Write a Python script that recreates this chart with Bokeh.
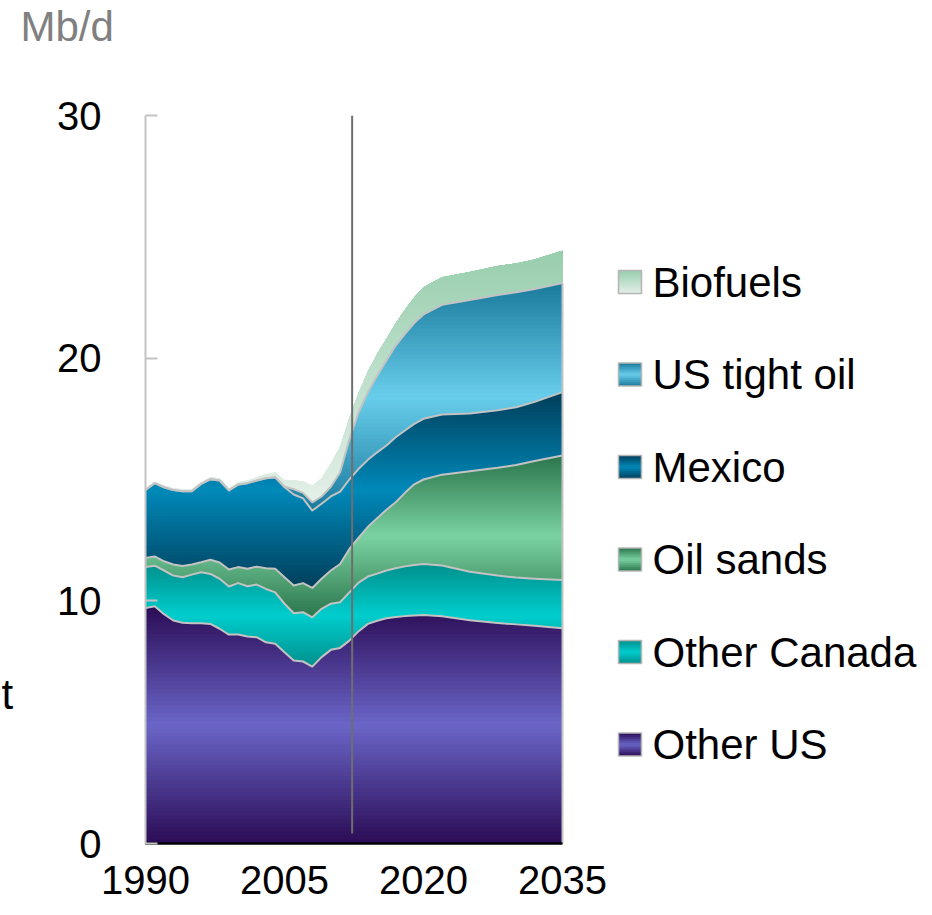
import numpy as np
from bokeh.plotting import figure
from bokeh.models import Range1d, Label, FixedTicker
from bokeh.core.properties import value
from bokeh.embed import file_html
from bokeh.resources import INLINE

# ---------------- data (Mb/d) ----------------
years = [1990, 1991, 1992, 1993, 1994, 1995, 1996, 1997, 1998, 1999, 2000, 2001,
         2002, 2003, 2004, 2005, 2006, 2007, 2008, 2009, 2010, 2011, 2012,
         2013, 2014, 2015, 2016, 2017, 2018, 2019, 2020, 2022, 2025, 2028, 2030, 2032, 2035]

other_us = [9.70, 9.78, 9.45, 9.19, 9.10, 9.08, 9.08, 9.05, 8.85, 8.61, 8.61, 8.53,
            8.50, 8.29, 8.23, 7.88, 7.54, 7.50, 7.29, 7.68, 7.98, 8.06, 8.36,
            8.75, 9.05, 9.18, 9.28, 9.33, 9.37, 9.40, 9.42, 9.36, 9.20, 9.09, 9.03, 8.97, 8.87]
other_canada = [1.69, 1.67, 1.80, 1.85, 1.87, 2.00, 2.10, 2.06, 2.06, 1.98, 2.12, 2.07,
                2.17, 2.20, 2.12, 2.00, 1.95, 2.03, 2.03, 1.99, 1.90, 1.88, 1.99,
                2.00, 1.95, 1.94, 1.97, 2.01, 2.05, 2.08, 2.10, 2.10, 2.00, 1.95, 1.93, 1.94, 1.99]
oil_sands = [0.38, 0.38, 0.38, 0.46, 0.47, 0.42, 0.41, 0.58, 0.67, 0.70, 0.66, 0.72,
             0.74, 0.85, 0.97, 1.09, 1.14, 1.20, 1.21, 1.24, 1.37, 1.58, 1.79,
             1.85, 2.05, 2.28, 2.50, 2.72, 3.03, 3.32, 3.48, 3.74, 4.14, 4.44, 4.64, 4.85, 5.13]
mexico = [2.80, 3.02, 3.05, 3.07, 3.08, 3.02, 3.23, 3.32, 3.38, 3.26, 3.40, 3.53,
          3.55, 3.71, 3.77, 3.71, 3.75, 3.49, 3.19, 3.09, 3.05, 2.98, 2.86,
          2.84, 2.76, 2.72, 2.65, 2.68, 2.57, 2.49, 2.50, 2.48, 2.38, 2.37, 2.38, 2.44, 2.61]
us_tight_oil = [0.0, 0.0, 0.0, 0.0, 0.0, 0.0, 0.0, 0.0, 0.0, 0.0, 0.0, 0.0,
                0.0, 0.0, 0.0, 0.03, 0.22, 0.23, 0.34, 0.30, 0.40, 0.80, 1.65,
                2.33, 2.79, 3.16, 3.50, 3.78, 3.98, 4.16, 4.30, 4.52, 4.68, 4.75, 4.74, 4.65, 4.50]
biofuels = [0.06, 0.06, 0.07, 0.07, 0.08, 0.08, 0.07, 0.08, 0.09, 0.09, 0.10, 0.11,
            0.13, 0.17, 0.20, 0.26, 0.36, 0.48, 0.68, 0.75, 0.95, 1.05, 0.88,
            0.80, 0.85, 0.90, 0.90, 0.92, 1.00, 1.05, 1.12, 1.13, 1.15, 1.20, 1.18, 1.22, 1.33]

series_names = ["Other US", "Other Canada", "Oil sands", "Mexico", "US tight oil", "Biofuels"]
series_values = [other_us, other_canada, oil_sands, mexico, us_tight_oil, biofuels]
legend_order = ["Biofuels", "US tight oil", "Mexico", "Oil sands", "Other Canada", "Other US"]

x_ticks = [1990, 2005, 2020, 2035]
y_ticks = [0, 10, 20, 30]
outlook_start = 2012.3
unit_label = "Mb/d"

# ---------------- styles ----------------
grad = {
    "Other US": ("tube", "#2b0b55", "#6a66c8"),
    "Other Canada": ("tube", "#00908c", "#00cdcd"),
    "Oil sands": ("tube", "#2b754c", "#7ad2a2"),
    "Mexico": ("tube", "#003e5a", "#0089b9"),
    "US tight oil": ("tube", "#1a7a9c", "#68cdeb"),
    "Biofuels": ("linear", "#98ceae", "#e4f0e8"),
}
FONT = "Liberation Sans"

W, H = 924, 907
ML, MR, MT, MB = 145, 4, 115, 64
FW, FH = W - ML - MR, H - MT - MB
YPX = 417.0 / 45.0          # px per year
X0 = 1990
X1 = X0 + FW / YPX
Y0, Y1 = 0, 30
UPX = (Y1 - Y0) / FH        # data units per px


def px_x(page_x):
    return X0 + (page_x - ML) / YPX


def px_y(page_y):
    return Y0 + (H - MB - page_y) * UPX


def h2r(h):
    return np.array([int(h[i:i + 2], 16) for i in (1, 3, 5)], dtype=float)


def mix(c1, c2, t):
    c = h2r(c1) * (1 - t) + h2r(c2) * t
    return "#%02x%02x%02x" % tuple(int(round(v)) for v in c)


def grad_color(name, t):
    kind, a, b = grad[name]
    if kind == "tube":
        return mix(a, b, 1 - abs(2 * t - 1))
    return mix(b, a, t)


def clip_max(xa, ya, a):
    """max(y, a) along a polyline, with crossing points inserted."""
    xs, ys = [xa[0]], [max(ya[0], a)]
    for j in range(1, len(xa)):
        y0, y1 = ya[j - 1], ya[j]
        if (y0 - a) * (y1 - a) < 0:
            t = (a - y0) / (y1 - y0)
            xs.append(xa[j - 1] + t * (xa[j] - xa[j - 1]))
            ys.append(a)
        xs.append(xa[j])
        ys.append(max(y1, a))
    return xs, ys


p = figure(width=W, height=H, output_backend="svg", toolbar_location=None,
           x_range=Range1d(X0, X1), y_range=Range1d(Y0, Y1),
           min_border_left=ML, min_border_right=MR, min_border_top=MT, min_border_bottom=MB)
p.outline_line_color = None
p.xgrid.visible = False
p.ygrid.visible = False
p.background_fill_color = "white"

x = [float(v) for v in years]
vals = np.array(series_values, dtype=float)
cums = np.cumsum(vals, axis=0)
N = 60
for k, name in enumerate(series_names):
    lo_arr = list(cums[k - 1]) if k > 0 else [0.0] * len(x)
    up_arr = list(cums[k])
    lo, hi = min(lo_arr), max(up_arr)
    xs, ys, cs = [], [], []
    for i in range(N):
        a = lo + (hi - lo) * i / N
        tx, ty = clip_max(x, up_arr, a)
        bx, by = clip_max(x, lo_arr, a)
        xs.append(tx + bx[::-1])
        ys.append(ty + by[::-1])
        cs.append(grad_color(name, (i + 0.5) / N))
    p.patches(xs, ys, fill_color=cs, line_color=None)

# boundary lines
for k in range(5):
    p.line(x, cums[k], line_color="#c3c3c3", line_width=2, line_join="round")
p.segment(x0=[years[-1]], y0=[0], x1=[years[-1]], y1=[cums[4][-1]],
          line_color="#c3c3c3", line_width=2)

# outlook divider
p.segment(x0=[outlook_start], y0=[px_y(833)], x1=[outlook_start], y1=[Y1],
          line_color="#6e6e6e", line_width=2)

# legend
sw_l, sw_r = px_x(618), px_x(641)
M = 12
for i, name in enumerate(legend_order):
    cy_px = 281.5 + 92.5 * i
    top = px_y(cy_px - 11.5)
    bot = px_y(cy_px + 11.5)
    qb, qt, qc = [], [], []
    for j in range(M):
        qb.append(bot + (top - bot) * j / M)
        qt.append(top)
        qc.append(grad_color(name, (j + 0.5) / M))
    p.quad(left=[sw_l] * M, right=[sw_r] * M, bottom=qb, top=qt, fill_color=qc, line_color=None)
    p.quad(left=[sw_l], right=[sw_r], bottom=[bot], top=[top], fill_color=None,
           line_color="#b5b5b5", line_width=1.5)
p.text(x=[px_x(652)] * len(legend_order),
       y=[px_y(281.5 + 92.5 * i) for i in range(len(legend_order))],
       text=legend_order, text_font=value(FONT), text_font_size="42px",
       text_baseline="middle", text_align="left", text_color="black")

# axes
p.yaxis.ticker = FixedTicker(ticks=y_ticks)
p.yaxis.axis_line_color = "#c3c3c3"
p.yaxis.axis_line_width = 2
p.yaxis.major_tick_in = 12
p.yaxis.major_tick_out = 0
p.yaxis.major_tick_line_color = "#c3c3c3"
p.yaxis.major_tick_line_width = 2
p.yaxis.minor_tick_line_color = None
p.yaxis.major_label_standoff = 44
p.yaxis.major_label_text_font = FONT
p.yaxis.major_label_text_font_size = "40px"
p.yaxis.major_label_text_color = "black"

p.xaxis.ticker = FixedTicker(ticks=x_ticks)
p.xaxis.bounds = (1990, 2035)
p.xaxis.axis_line_color = "black"
p.xaxis.axis_line_width = 2.5
p.xaxis.major_tick_line_color = None
p.xaxis.minor_tick_line_color = None
p.xaxis.major_label_standoff = 16
p.xaxis.major_label_text_font = FONT
p.xaxis.major_label_text_font_size = "40px"
p.xaxis.major_label_text_color = "black"

# texts outside the frame live in a side panel (side-panel annotations are not clipped)
DY = 16   # vertical offset compensation (px) for labels in the side panel
p.add_layout(Label(x=px_x(20), y=px_y(42 - DY), x_units="data", y_units="data",
                   text=unit_label, text_font=FONT, text_font_size="42px",
                   text_color="#808080", text_baseline="alphabetic"), "above")
p.add_layout(Label(x=px_x(1), y=px_y(710 - DY), x_units="data", y_units="data", text="t",
                   text_font=FONT, text_font_size="42px", text_color="black",
                   text_baseline="alphabetic"), "above")

open("out.html", "w").write(file_html(p, INLINE))
